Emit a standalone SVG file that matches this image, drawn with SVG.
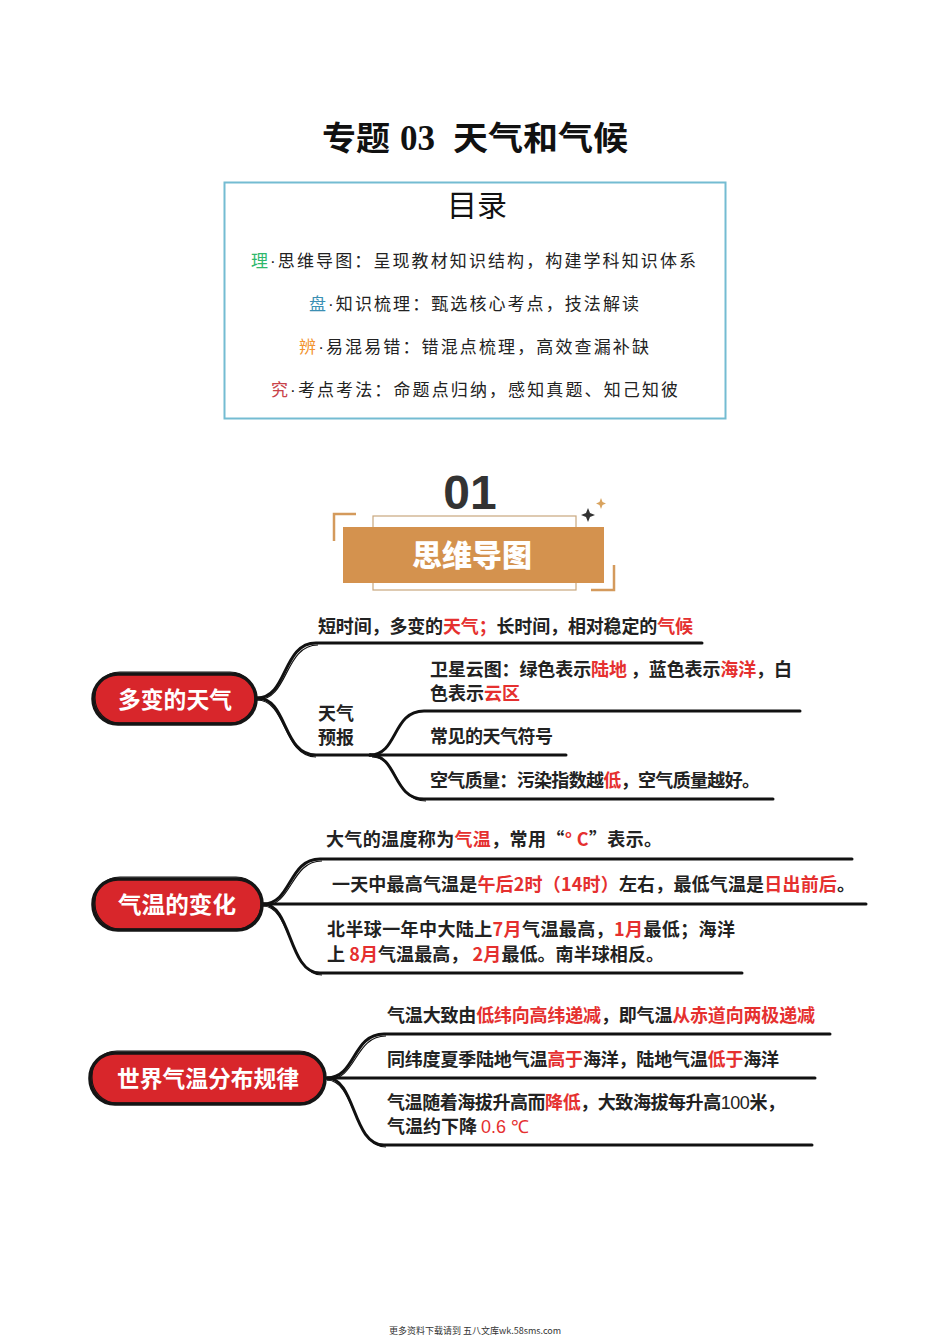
<svg xmlns="http://www.w3.org/2000/svg" width="950" height="1343" viewBox="0 0 950 1343">
<style>
.cjk{font-family:"Noto Sans CJK SC","Noto Sans",sans-serif}
.toc{font-family:"Noto Sans CJK SC",sans-serif;font-size:17px;fill:#222;letter-spacing:1px}
.dot{font-family:"Liberation Sans",sans-serif}
.t{font-family:"Noto Sans CJK SC",sans-serif;font-size:18px;font-weight:700;fill:#222}
.r{fill:#e5302f}
.num{font-family:"Liberation Sans",sans-serif;font-weight:400}
.pill{fill:#d8262b;stroke:#151515;stroke-width:3.5}
.pill2{fill:none;stroke:#151515;stroke-width:1.2}
.pt{font-family:"Noto Sans CJK SC",sans-serif;font-size:23px;font-weight:700;fill:#fff}
.br{fill:none;stroke:#111;stroke-width:3;stroke-linecap:round}
.br2{fill:none;stroke:#111;stroke-width:1.2}
.tt{font-family:"Noto Sans CJK SC",sans-serif;font-size:33px;font-weight:700;fill:#111}
</style>
<rect width="950" height="1343" fill="#fff"/>

<g id="title">
<text class="tt" x="322" y="150" textLength="68" lengthAdjust="spacingAndGlyphs">专题</text>
<text class="tt" x="400" y="150" style="font-family:'Liberation Serif',serif;font-size:35px">03</text>
<text class="tt" x="453" y="150" textLength="175" lengthAdjust="spacingAndGlyphs">天气和气候</text>
</g>

<g id="toc">
<rect x="224.5" y="182.5" width="501" height="236" fill="none" stroke="#74bcd2" stroke-width="2"/>
<text x="477" y="216" text-anchor="middle" style="font-family:'Noto Sans CJK SC',sans-serif;font-size:30px;fill:#111">目录</text>
<text class="toc" x="251" y="267" textLength="446" lengthAdjust="spacing"><tspan fill="#2fb86c">理</tspan><tspan class="dot">·</tspan>思维导图：呈现教材知识结构，构建学科知识体系</text>
<text class="toc" x="309" y="310" textLength="331" lengthAdjust="spacing"><tspan fill="#3b8fb3">盘</tspan><tspan class="dot">·</tspan>知识梳理：甄选核心考点，技法解读</text>
<text class="toc" x="299" y="353" textLength="351" lengthAdjust="spacing"><tspan fill="#f29430">辨</tspan><tspan class="dot">·</tspan>易混易错：错混点梳理，高效查漏补缺</text>
<text class="toc" x="271" y="396" textLength="408" lengthAdjust="spacing"><tspan fill="#c8434a">究</tspan><tspan class="dot">·</tspan>考点考法：命题点归纳，感知真题、知己知彼</text>
</g>

<g id="section-header">
<text x="470" y="509" text-anchor="middle" style="font-family:'Liberation Sans',sans-serif;font-size:48px;font-weight:700;fill:#333">01</text>
<rect x="373" y="516" width="203" height="74" fill="none" stroke="#c9a77e" stroke-width="1.2"/>
<path d="M334,541 V514 H356" fill="none" stroke="#d49a5c" stroke-width="2.5"/>
<path d="M614,565 V590 H591" fill="none" stroke="#d49a5c" stroke-width="2.5"/>
<rect x="343" y="527" width="261" height="56" fill="#d4924e"/>
<text x="472" y="566" text-anchor="middle" style="font-family:'Noto Sans CJK SC',sans-serif;font-size:30px;font-weight:900;fill:#fff">思维导图</text>
<path d="M588,508 L590,513 L595,515 L590,517 L588,522 L586,517 L581,515 L586,513 Z" fill="#333"/>
<path d="M601,498 L602.5,502 L606,503.5 L602.5,505 L601,509 L599.5,505 L596,503.5 L599.5,502 Z" fill="#d9a35e"/>
</g>

<g id="connectors">
<!-- node 1 -->
<path class="br" d="M257,698 C288,698 282,643 316,643 H702"/>
<path class="br2" d="M257,700 C289,700 284,645 318,645"/>
<path class="br" d="M257,698 C288,698 282,755 316,755 H370"/>
<path class="br2" d="M257,700 C287,700 283,757 316,757"/>
<path class="br" d="M370,755 C398,755 392,711 424,711 H800"/>
<path class="br" d="M370,755 H566"/>
<path class="br" d="M370,755 C398,755 392,799 424,799 H773"/>
<path class="br2" d="M372,757 C399,757 394,801 426,801"/>
<!-- node 2 -->
<path class="br" d="M263,904 C292,904 288,859 320,859 H852"/>
<path class="br2" d="M263,906 C293,906 290,861 322,861"/>
<path class="br" d="M263,904 H866"/>
<path class="br" d="M263,904 C292,904 288,973 320,973 H742"/>
<path class="br2" d="M263,906 C291,906 290,975 322,975"/>
<!-- node 3 -->
<path class="br" d="M327,1078 C356,1078 352,1034 384,1034 H830"/>
<path class="br2" d="M327,1080 C357,1080 354,1036 386,1036"/>
<path class="br" d="M327,1078 H815"/>
<path class="br" d="M327,1078 C356,1078 352,1145 384,1145 H812"/>
<path class="br2" d="M327,1080 C355,1080 354,1147 386,1147"/>
</g>

<g id="node-duobian">
<rect class="pill" x="93" y="674" width="163" height="50" rx="25"/>
<rect class="pill2" x="95" y="672" width="160" height="51" rx="25"/>
<text class="pt" x="175" y="708" text-anchor="middle" textLength="114" lengthAdjust="spacingAndGlyphs">多变的天气</text>
</g>

<g id="node-qiwen">
<rect class="pill" x="93" y="879" width="169" height="51" rx="25"/>
<rect class="pill2" x="95" y="877" width="166" height="52" rx="25"/>
<text class="pt" x="177" y="913" text-anchor="middle" textLength="118" lengthAdjust="spacingAndGlyphs">气温的变化</text>
</g>

<g id="node-shijie">
<rect class="pill" x="90" y="1053" width="235" height="51" rx="25"/>
<rect class="pill2" x="92" y="1051" width="232" height="52" rx="25"/>
<text class="pt" x="208" y="1087" text-anchor="middle" textLength="182" lengthAdjust="spacingAndGlyphs">世界气温分布规律</text>
</g>

<g id="text-n1">
<text class="t" x="318" y="633" textLength="375" lengthAdjust="spacing">短时间，多变的<tspan class="r">天气；</tspan>长时间，相对稳定的<tspan class="r">气候</tspan></text>
<text class="t" x="318" y="720">天气</text>
<text class="t" x="318" y="744">预报</text>
<text class="t" x="430" y="676" textLength="362" lengthAdjust="spacing">卫星云图：绿色表示<tspan class="r">陆地</tspan> ，蓝色表示<tspan class="r">海洋</tspan>，白</text>
<text class="t" x="430" y="700">色表示<tspan class="r">云区</tspan></text>
<text class="t" x="430" y="743" textLength="123" lengthAdjust="spacing">常见的天气符号</text>
<text class="t" x="430" y="787" textLength="330" lengthAdjust="spacing">空气质量：污染指数越<tspan class="r">低</tspan>，空气质量越好。</text>
</g>

<g id="text-n2">
<text class="t" x="326" y="846" textLength="336" lengthAdjust="spacing">大气的温度称为<tspan class="r">气温</tspan>，常用“<tspan class="r">° C</tspan>”表示。</text>
<text class="t" x="332" y="891" textLength="523" lengthAdjust="spacing">一天中最高气温是<tspan class="r">午后2时（14时）</tspan>左右，最低气温是<tspan class="r">日出前后</tspan>。</text>
<text class="t" x="327" y="936" textLength="408" lengthAdjust="spacing">北半球一年中大陆上<tspan class="r">7月</tspan>气温最高，<tspan class="r">1月</tspan>最低；海洋</text>
<text class="t" x="327" y="961" textLength="337" lengthAdjust="spacing">上 <tspan class="r">8月</tspan>气温最高， <tspan class="r">2月</tspan>最低。南半球相反。</text>
</g>

<g id="text-n3">
<text class="t" x="387" y="1022" textLength="428" lengthAdjust="spacing">气温大致由<tspan class="r">低纬向高纬递减</tspan>，即气温<tspan class="r">从赤道向两极递减</tspan></text>
<text class="t" x="387" y="1066" textLength="392" lengthAdjust="spacing">同纬度夏季陆地气温<tspan class="r">高于</tspan>海洋，陆地气温<tspan class="r">低于</tspan>海洋</text>
<text class="t" x="387" y="1109" textLength="398" lengthAdjust="spacing">气温随着海拔升高而<tspan class="r">降低</tspan>，大致海拔每升高<tspan class="num">100</tspan>米，</text>
<text class="t" x="387" y="1133">气温约下降 <tspan class="r num">0.6 ℃</tspan></text>
</g>

<g id="footer">
<text x="475" y="1334" text-anchor="middle" style="font-family:'Noto Sans CJK SC',sans-serif;font-size:9px;fill:#333">更多资料下载请到 五八文库wk.58sms.com</text>
</g>
</svg>
